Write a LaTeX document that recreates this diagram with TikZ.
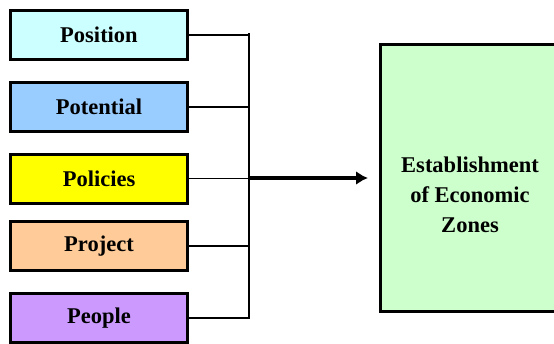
\documentclass[tikz,border=0pt]{standalone}
\usepackage{fontspec}
\setmainfont{Liberation Serif}
\usetikzlibrary{arrows.meta}

\definecolor{poscol}{HTML}{CCFFFF}
\definecolor{potcol}{HTML}{99CCFF}
\definecolor{polcol}{HTML}{FFFF00}
\definecolor{procol}{HTML}{FFCC99}
\definecolor{peocol}{HTML}{CC99FF}
\definecolor{zonecol}{HTML}{CCFFCC}

\tikzset{
  factor/.style={draw,line width=3pt,minimum width=177pt,minimum height=49pt,
    inner sep=0pt,font=\fontsize{22.5}{27}\selectfont\bfseries},
  feed/.style={line width=1.5pt},
}

\begin{document}
\begin{tikzpicture}[x=1pt,y=-1pt]
\useasboundingbox (0,0) rectangle (554,343);
\clip (0,0) rectangle (554,343);
\node[factor,fill=poscol] (pos) at (99,35) {Position};
\node[factor,fill=potcol] (pot) at (99,107) {Potential};
\node[factor,fill=polcol] (pol) at (99,178.5) {Policies};
\node[factor,fill=procol] (pro) at (99,246) {Project};
\node[factor,fill=peocol] (peo) at (99,318) {People};
\node[draw,line width=3pt,fill=zonecol,minimum width=179pt,minimum height=267pt] (zone) at (470,178) {};
\node[align=center,font=\fontsize{22.5}{30}\selectfont\bfseries] (zonetext) at ([yshift=-17pt]zone.center) {Establishment\\of Economic\\Zones};
\coordinate (top) at (249,33);
\coordinate (bot) at (249,319);
\coordinate (mid) at (249,178);
\draw[line width=2pt] (top) -- (bot);
\draw[feed] (pos.east) -- (pos.east -| top);
\draw[feed] (pot.east) -- (pot.east -| top);
\draw[feed] (pol.east) -- (pol.east -| top);
\draw[feed] (pro.east) -- (pro.east -| top);
\draw[feed] (peo.east) -- (peo.east -| top);
\draw[line width=3.5pt,-{Latex[length=12pt,width=14pt]},shorten >=11pt] (mid) -- (zone.west);
\end{tikzpicture}
\end{document}
